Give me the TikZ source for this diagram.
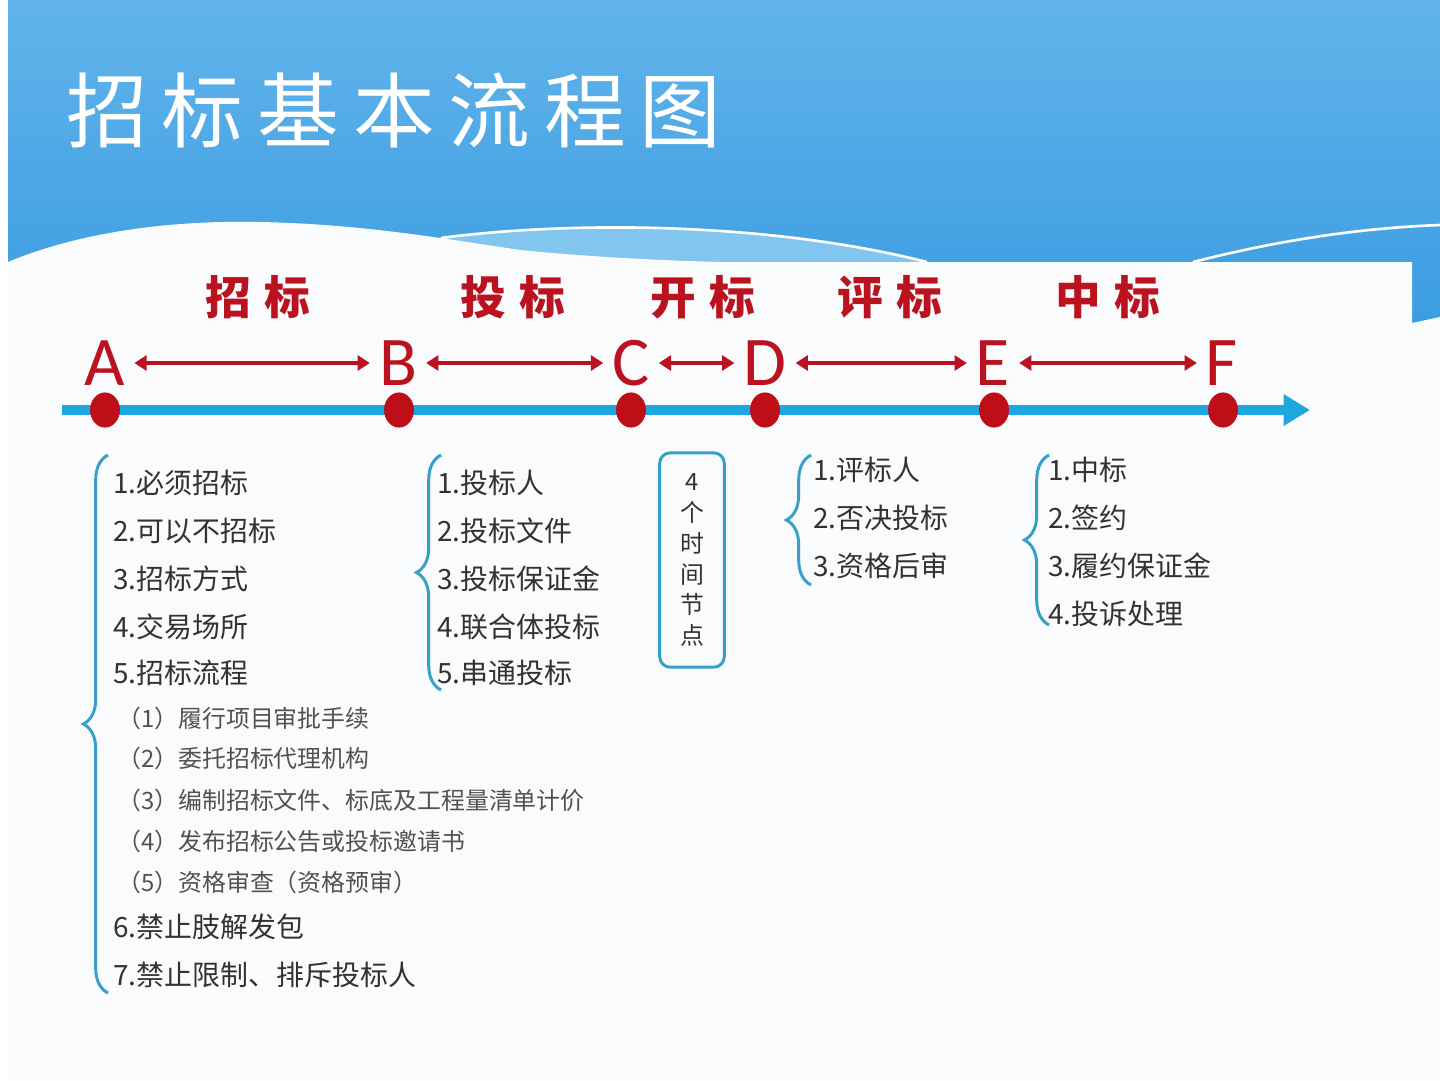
\documentclass[tikz,border=0pt]{standalone}
\usepackage{fontspec}
\setmainfont{Noto Sans CJK SC}
\newfontfamily\titlefont{Noto Sans CJK SC}[LetterSpace=17]
\newfontfamily\stagefont{Noto Sans CJK SC}[LetterSpace=30]
\newfontfamily\letterfont{Carlito}
\usetikzlibrary{arrows.meta,decorations.pathreplacing,shapes.geometric}
\definecolor{skytop}{RGB}{98,180,234}
\definecolor{skybot}{RGB}{58,156,226}
\definecolor{skyband}{RGB}{130,198,240}
\definecolor{pagewhite}{RGB}{250,251,252}
\definecolor{stagered}{RGB}{186,18,30}
\definecolor{dotred}{RGB}{190,14,24}
\definecolor{lineblue}{RGB}{30,166,222}
\definecolor{bracecol}{RGB}{56,160,200}
\definecolor{itemgray}{RGB}{50,50,50}
\begin{document}
\begin{tikzpicture}[x=0.02cm,y=-0.02cm,
    stagelbl/.style={text=stagered,inner sep=0pt,font=\stagefont\bfseries\fontsize{26pt}{30pt}\selectfont},
    ptletter/.style={text=stagered,inner xsep=5pt,inner ysep=0pt,font=\letterfont\fontsize{39.7pt}{44pt}\selectfont},
    spanarrow/.style={stagered,line width=2.3pt,{Triangle[length=7pt,width=8.5pt]}-{Triangle[length=7pt,width=8.5pt]}},
    timeline/.style={lineblue,line width=5.7pt,-{Triangle[length=15pt,width=17pt]}},
    ptdot/.style={ellipse,fill=dotred,minimum width=17pt,minimum height=20pt,inner sep=0pt},
    listbrace/.style={bracecol,line width=1.7pt,decorate,decoration={brace,amplitude=14pt}},
    listitem/.style={anchor=west,inner sep=0pt,text=itemgray,font=\fontsize{15.9pt}{19pt}\selectfont},
    subitem/.style={listitem,text=itemgray!85,font=\fontsize{13.6pt}{16pt}\selectfont}]
    \useasboundingbox (0,0) rectangle (1440,1080);
    % background
    \fill[white] (0,0) rectangle (1440,1080);
    \fill[top color=skytop,bottom color=skybot] (8,0) rectangle (1440,330);
    \fill[skyband] (441,238) .. controls (560,222) and (760,220) .. (927,262) -- (441,262) -- cycle;
    \draw[white,line width=1.5pt] (441,238) .. controls (560,222) and (760,220) .. (927,262);
    \draw[white,line width=1.5pt] (1193,262) .. controls (1280,240) and (1360,228) .. (1440,225);
    \fill[pagewhite] (8,1080) -- (8,262) .. controls (80,232) and (170,220) .. (260,222)
        .. controls (360,224) and (440,238) .. (520,250) .. controls (600,258) and (680,261) .. (720,262)
        -- (1412,262) -- (1412,323) -- (1440,317) -- (1440,1080) -- cycle;
    % title
    \node[anchor=west,inner sep=0pt,text=white,font=\titlefont\fontsize{46.5pt}{50pt}\selectfont] (title) at (66,110) {招标基本流程图};
    % stages
    \node[stagelbl] (sZhao) at (258,297) {招标};
    \node[stagelbl] (sTou) at (513,297) {投标};
    \node[stagelbl] (sKai) at (703,297) {开标};
    \node[stagelbl] (sPing) at (890,297) {评标};
    \node[stagelbl] (sZhong) at (1108,297) {中标};
    \begin{scope}[every node/.style={ptletter}]
        \node (A) at (105,363) {A};
        \node (B) at (398,363) {B};
        \node (C) at (631,363) {C};
        \node (D) at (765,363) {D};
        \node (E) at (993,363) {E};
        \node (F) at (1222,363) {F};
    \end{scope}
    \draw[spanarrow] (A) -- (B);
    \draw[spanarrow] (B) -- (C);
    \draw[spanarrow] (C) -- (D);
    \draw[spanarrow] (D) -- (E);
    \draw[spanarrow] (E) -- (F);
    % time line
    \coordinate (T0) at (62,410);
    \coordinate (T1) at (1310,410);
    \draw[timeline] (T0) -- (T1);
    \begin{scope}[every node/.style={ptdot}]
        \node (pA) at (105,410) {};
        \node (pB) at (399,410) {};
        \node (pC) at (631,410) {};
        \node (pD) at (765,410) {};
        \node (pE) at (994,410) {};
        \node (pF) at (1223,410) {};
    \end{scope}
    % lists
    \draw[listbrace] (108,993) -- (108,455);
    \node[listitem] (a1) at (113,483) {1.必须招标};
    \node[listitem] (a2) at (113,531) {2.可以不招标};
    \node[listitem] (a3) at (113,579) {3.招标方式};
    \node[listitem] (a4) at (113,627) {4.交易场所};
    \node[listitem] (a5) at (113,673) {5.招标流程};
    \node[subitem] (a51) at (117,718) {（1）履行项目审批手续};
    \node[subitem] (a52) at (117,758) {（2）委托招标代理机构};
    \node[subitem] (a53) at (117,800) {（3）编制招标文件、标底及工程量清单计价};
    \node[subitem] (a54) at (117,841) {（4）发布招标公告或投标邀请书};
    \node[subitem] (a55) at (117,882) {（5）资格审查（资格预审）};
    \node[listitem] (a6) at (113,927) {6.禁止肢解发包};
    \node[listitem] (a7) at (113,975) {7.禁止限制、排斥投标人};
    \draw[listbrace] (441,690) -- (441,455);
    \node[listitem] (b1) at (437,483) {1.投标人};
    \node[listitem] (b2) at (437,531) {2.投标文件};
    \node[listitem] (b3) at (437,579) {3.投标保证金};
    \node[listitem] (b4) at (437,627) {4.联合体投标};
    \node[listitem] (b5) at (437,673) {5.串通投标};
    \node[draw=bracecol,line width=1.7pt,rounded corners=6pt,minimum width=36.8pt,minimum height=122pt,
        align=center,text=itemgray,font=\fontsize{13.6pt}{17.6pt}\selectfont] (timebox) at (692,560)
        {4\\个\\时\\间\\节\\点};
    \draw[listbrace] (811,585) -- (811,455);
    \node[listitem] (d1) at (813,470) {1.评标人};
    \node[listitem] (d2) at (813,518) {2.否决投标};
    \node[listitem] (d3) at (813,566) {3.资格后审};
    \draw[listbrace] (1049,625) -- (1049,455);
    \node[listitem] (e1) at (1048,470) {1.中标};
    \node[listitem] (e2) at (1048,518) {2.签约};
    \node[listitem] (e3) at (1048,566) {3.履约保证金};
    \node[listitem] (e4) at (1048,614) {4.投诉处理};
\end{tikzpicture}
\end{document}
